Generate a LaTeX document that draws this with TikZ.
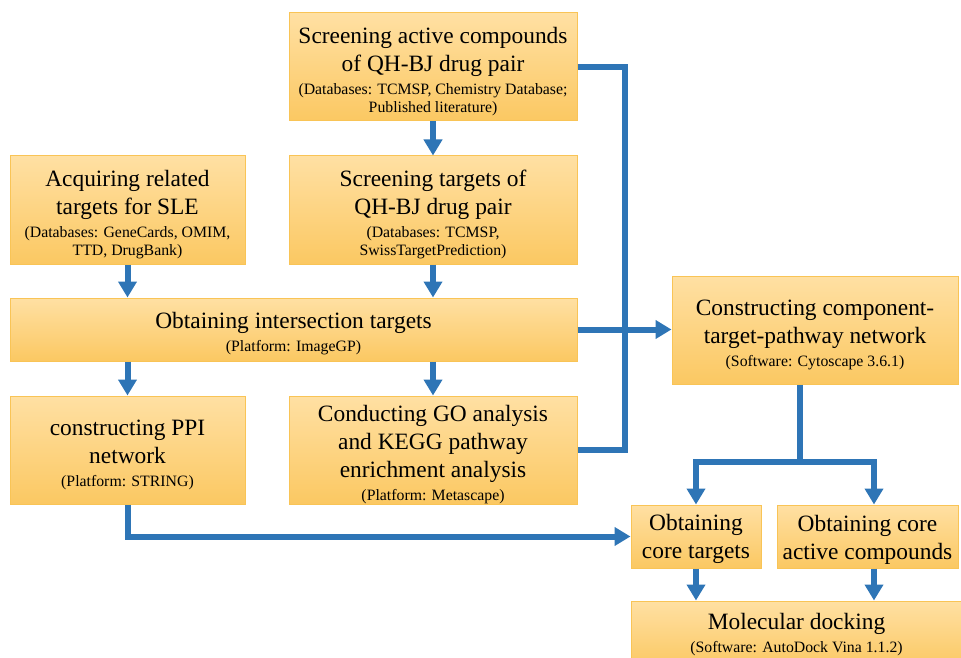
\documentclass[tikz,border=0pt]{standalone}
\usepackage{fontspec}
\setmainfont{Liberation Serif}
\usetikzlibrary{arrows.meta}
\definecolor{arrowblue}{RGB}{46,117,182}
\definecolor{boxtop}{RGB}{255,224,163}
\definecolor{boxbot}{RGB}{251,200,98}
\definecolor{boxedge}{RGB}{249,196,86}
\newcommand\subtxt{\fontsize{15.8}{18}\selectfont}
\newcommand\tp{\rule{0pt}{25pt}}
\tikzset{
  box/.style={draw=boxedge, line width=1pt, top color=boxtop, bottom color=boxbot,
    align=center, inner sep=0pt, font=\fontsize{23.4}{28}\selectfont},
  flow/.style={draw=arrowblue, line width=6pt, line join=miter},
  flowarrow/.style={flow, -{Triangle[width=18pt,length=16pt]}},
}
\begin{document}
\begin{tikzpicture}[x=1pt,y=-1pt]
\useasboundingbox (0,0) rectangle (961,658);
\clip (0,0) rectangle (961,658);
\node[box, minimum width=288pt, minimum height=108pt] (top) at (433,67)
  {\tp Screening active compounds\\of QH-BJ drug pair\\[-5pt]{\subtxt (Databases: TCMSP, Chemistry Database;}\\[-10pt]{\subtxt Published literature)}};
\node[box, minimum width=235pt, minimum height=108pt] (acq) at (127.5,210)
  {\tp Acquiring related\\targets for SLE\\[-5pt]{\subtxt (Databases: GeneCards, OMIM,}\\[-10pt]{\subtxt TTD, DrugBank)}};
\node[box, minimum width=288pt, minimum height=108pt] (st) at (433,210)
  {\tp Screening targets of\\QH-BJ drug pair\\[-5pt]{\subtxt (Databases: TCMSP,}\\[-10pt]{\subtxt SwissTargetPrediction)}};
\node[box, minimum width=567pt, minimum height=63pt] (inter) at (293.5,329.5)
  {\tp Obtaining intersection targets\\[-5pt]{\subtxt (Platform: ImageGP)}};
\node[box, minimum width=235pt, minimum height=108pt] (ppi) at (127.5,450)
  {\tp constructing PPI\\network\\[-5pt]{\subtxt (Platform: STRING)}};
\node[box, minimum width=288pt, minimum height=108pt] (go) at (433,450)
  {\tp Conducting GO analysis\\and KEGG pathway\\enrichment analysis\\[-5pt]{\subtxt (Platform: Metascape)}};
\node[box, minimum width=286pt, minimum height=108pt] (ccn) at (815,330)
  {\tp Constructing component-\\target-pathway network\\[-5pt]{\subtxt (Software: Cytoscape 3.6.1)}};
\node[box, minimum width=130pt, minimum height=63pt] (ct) at (696,536.5)
  {\rule{0pt}{22pt}Obtaining\\core targets};
\node[box, minimum width=181pt, minimum height=63pt] (ca) at (867.5,536.5)
  {\rule{0pt}{22pt}Obtaining core\\active compounds};
\node[box, minimum width=331pt, minimum height=67pt] (dock) at (796.5,634.5)
  {Molecular docking\\[-5pt]{\subtxt (Software: AutoDock Vina 1.1.2)}};
\coordinate (split) at (800,462);
% connectors
\draw[flowarrow] (top.south) -- (st.north);
\draw[flowarrow] (acq.south) -- (acq.south |- inter.north);
\draw[flowarrow] (st.south) -- (st.south |- inter.north);
\draw[flowarrow] (ppi.north |- inter.south) -- (ppi.north);
\draw[flowarrow] (go.north |- inter.south) -- (go.north);
\draw[flow] (top.east) -- ++(47,0) |- (go.east);
\draw[flowarrow] (inter.east) -- (inter.east -| ccn.west);
\draw[flow] ([xshift=-15pt]ccn.south) -- (split);
\draw[flowarrow] (split) -| (ct.north);
\draw[flowarrow] (split) -| ([xshift=6.5pt]ca.north);
\draw[flowarrow] (ppi.south) |- (ct.west);
\draw[flowarrow] (ct.south) -- (ct.south |- dock.north);
\draw[flowarrow] ([xshift=6.5pt]ca.south) -- ([xshift=6.5pt]ca.south |- dock.north);
\end{tikzpicture}
\end{document}
